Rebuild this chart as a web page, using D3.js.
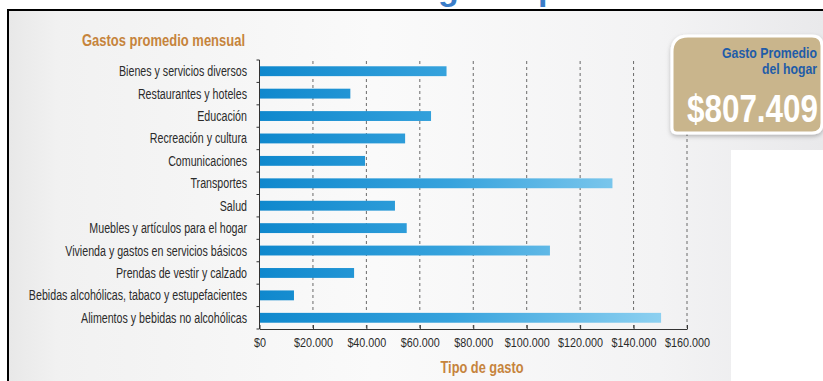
<!DOCTYPE html>
<html>
<head>
<meta charset="utf-8">
<script src="https://cdn.jsdelivr.net/npm/d3@7"></script>
<style>
  html, body { margin: 0; padding: 0; background: #fff; }
  svg { display: block; }
</style>
</head>
<body>
<svg id="chart" width="823" height="381"></svg>
<script>
// ---- data ----
const categories = [
  "Bienes y servicios diversos",
  "Restaurantes y hoteles",
  "Educación",
  "Recreación y cultura",
  "Comunicaciones",
  "Transportes",
  "Salud",
  "Muebles y artículos para el hogar",
  "Vivienda y gastos en servicios básicos",
  "Prendas de vestir y calzado",
  "Bebidas alcohólicas, tabaco y estupefacientes",
  "Alimentos y bebidas no alcohólicas"
];
const values = [70000, 34000, 64200, 54500, 39500, 132100, 50700, 55100, 108700, 35400, 12900, 150300];
const tickValues = [0, 20000, 40000, 60000, 80000, 100000, 120000, 140000, 160000];
const chartTitle = "Estructura del gasto promedio";
const panelTitle = "Gastos promedio mensual";
const axisTitle = "Tipo de gasto";
const calloutLines = ["Gasto Promedio", "del hogar"];
const calloutValue = "$807.409";

// ---- setup ----
const svg = d3.select("#chart");
const defs = svg.append("defs");
const SANS = '"Liberation Sans", Arial, sans-serif';

// squeeze text horizontally to imitate a condensed face
function condense(sel, factor) {
  sel.each(function () {
    const w = this.getComputedTextLength();
    d3.select(this).attr("textLength", w * factor).attr("lengthAdjust", "spacingAndGlyphs");
  });
}
function fitWidth(sel, width) {
  sel.attr("textLength", width).attr("lengthAdjust", "spacingAndGlyphs");
}

const bg = defs.append("linearGradient").attr("id", "bgGrad").attr("x1", 0).attr("x2", 1).attr("y1", 0).attr("y2", 0);
bg.append("stop").attr("offset", "0%").attr("stop-color", "#e8e8e8");
bg.append("stop").attr("offset", "6%").attr("stop-color", "#f1f1f1");
bg.append("stop").attr("offset", "45%").attr("stop-color", "#fafafa");
bg.append("stop").attr("offset", "80%").attr("stop-color", "#f3f3f4");
bg.append("stop").attr("offset", "100%").attr("stop-color", "#e9e9eb");

const margin = { left: 259.5, right: 687, top: 60, bottom: 329 };
const x = d3.scaleLinear().domain([0, 160000]).range([margin.left, margin.right]);
const y = d3.scaleBand().domain(categories).range([margin.top, margin.bottom]).paddingInner(0.56).paddingOuter(0.28);

const barGrad = defs.append("linearGradient").attr("id", "barGrad")
  .attr("gradientUnits", "userSpaceOnUse")
  .attr("x1", x(0)).attr("x2", x(160000)).attr("y1", 0).attr("y2", 0);
barGrad.append("stop").attr("offset", "0%").attr("stop-color", "#0f88cd");
barGrad.append("stop").attr("offset", "45%").attr("stop-color", "#37a3dd");
barGrad.append("stop").attr("offset", "100%").attr("stop-color", "#98d6f3");

const shadow = defs.append("filter").attr("id", "shadow").attr("x", "-10%").attr("y", "-10%").attr("width", "130%").attr("height", "140%");
shadow.append("feDropShadow").attr("dx", 0).attr("dy", 2).attr("stdDeviation", 2).attr("flood-color", "#000").attr("flood-opacity", 0.25);

// background panel
svg.append("path")
  .attr("d", "M8,10 H823 V150 H731 V381 H8 Z")
  .attr("fill", "url(#bgGrad)");

// title (cut off at the top; only descenders visible)
const title = svg.append("text")
  .attr("y", -0.5)
  .attr("font-family", SANS)
  .attr("font-weight", "bold")
  .attr("font-size", 34)
  .attr("fill", "#3b7dc8")
  .text(chartTitle);
const gIdx = chartTitle.indexOf("gasto");
const preW = title.node().getSubStringLength(0, gIdx);
title.attr("x", 438 - preW);

// black border lines
svg.append("line").attr("x1", 7).attr("x2", 823).attr("y1", 10).attr("y2", 10).attr("stroke", "#000").attr("stroke-width", 2);
svg.append("line").attr("x1", 8).attr("x2", 8).attr("y1", 9).attr("y2", 381).attr("stroke", "#000").attr("stroke-width", 2);

// panel title
svg.append("text")
  .attr("x", 82).attr("y", 46)
  .attr("font-family", SANS)
  .attr("font-weight", "bold")
  .attr("font-size", 16.5)
  .attr("fill", "#c6843c")
  .text(panelTitle)
  .call(fitWidth, 163);

// gridlines
svg.append("g").selectAll("line")
  .data(tickValues.filter(d => d > 0))
  .join("line")
  .attr("x1", d => x(d)).attr("x2", d => x(d))
  .attr("y1", margin.top + 1).attr("y2", margin.bottom)
  .attr("stroke", "#6a6a6a")
  .attr("stroke-width", 1)
  .attr("stroke-dasharray", "3,3");

// bars
svg.append("g").selectAll("rect")
  .data(categories.map((c, i) => ({ c, v: values[i] })))
  .join("rect")
  .attr("x", x(0))
  .attr("y", d => y(d.c))
  .attr("width", d => x(d.v) - x(0))
  .attr("height", y.bandwidth())
  .attr("fill", "url(#barGrad)");

// category labels
const labels = svg.append("g").selectAll("text")
  .data(categories)
  .join("text")
  .attr("x", 247)
  .attr("y", d => y(d) + y.bandwidth() / 2)
  .attr("dy", "0.36em")
  .attr("text-anchor", "end")
  .attr("font-family", SANS)
  .attr("font-size", 14)
  .attr("fill", "#2b2b2b")
  .text(d => d);
const refW = labels.filter((d, i) => i === 0).node().getComputedTextLength();
condense(labels, 128 / refW);

// left axis line and boundary ticks
const step = y.step();
const boundaries = categories.map(c => y(c) - (step - y.bandwidth()) / 2).concat([margin.bottom]);
svg.append("line").attr("x1", x(0)).attr("x2", x(0)).attr("y1", margin.top).attr("y2", margin.bottom).attr("stroke", "#333").attr("stroke-width", 1);
svg.append("g").selectAll("line").data(boundaries).join("line")
  .attr("x1", x(0) - 3).attr("x2", x(0)).attr("y1", d => d).attr("y2", d => d)
  .attr("stroke", "#333");

// bottom axis
const fmt = d => "$" + d3.format(",")(d).replace(/,/g, ".");
const xAxis = svg.append("g")
  .attr("transform", `translate(0,${margin.bottom})`)
  .call(d3.axisBottom(x).tickValues(tickValues).tickFormat(fmt).tickSizeInner(-4).tickSizeOuter(0).tickPadding(9));
xAxis.select(".domain").attr("stroke", "#333");
xAxis.selectAll(".tick line").attr("stroke", "#333");
const tickTexts = xAxis.selectAll(".tick text")
  .attr("font-family", SANS)
  .attr("font-size", 13)
  .attr("fill", "#2b2b2b");
const tW = tickTexts.filter(d => d === 20000).node().getComputedTextLength();
condense(tickTexts, 39 / tW);

// axis title
svg.append("text")
  .attr("x", 482).attr("y", 373)
  .attr("text-anchor", "middle")
  .attr("font-family", SANS)
  .attr("font-weight", "bold")
  .attr("font-size", 16.5)
  .attr("fill", "#c6843c")
  .text(axisTitle)
  .call(fitWidth, 83);

// callout box
const bx0 = 672, bx1 = 822, by0 = 36, by1 = 133, rTL = 16, rBL = 5, rR = 10;
svg.append("path")
  .attr("d", `M${bx0},${by0 + rTL} Q${bx0},${by0} ${bx0 + rTL},${by0} H${bx1 - rR} Q${bx1},${by0} ${bx1},${by0 + rR} V${by1 - rR} Q${bx1},${by1} ${bx1 - rR},${by1} H${bx0 + rBL} Q${bx0},${by1} ${bx0},${by1 - rBL} Z`)
  .attr("fill", "#c9b58c")
  .attr("stroke", "#fff")
  .attr("stroke-width", 3)
  .attr("filter", "url(#shadow)");

const calloutWidths = [95, 55];
svg.append("g").selectAll("text").data(calloutLines).join("text")
  .attr("x", 817)
  .attr("y", (d, i) => 58 + i * 16)
  .attr("text-anchor", "end")
  .attr("font-family", SANS)
  .attr("font-weight", "bold")
  .attr("font-size", 15)
  .attr("fill", "#1f5ca8")
  .text(d => d)
  .each(function (d, i) { d3.select(this).call(fitWidth, calloutWidths[i]); });

svg.append("text")
  .attr("x", 818).attr("y", 122)
  .attr("text-anchor", "end")
  .attr("font-family", SANS)
  .attr("font-weight", "bold")
  .attr("font-size", 39)
  .attr("fill", "#ffffff")
  .text(calloutValue)
  .call(fitWidth, 131);
</script>
</body>
</html>
